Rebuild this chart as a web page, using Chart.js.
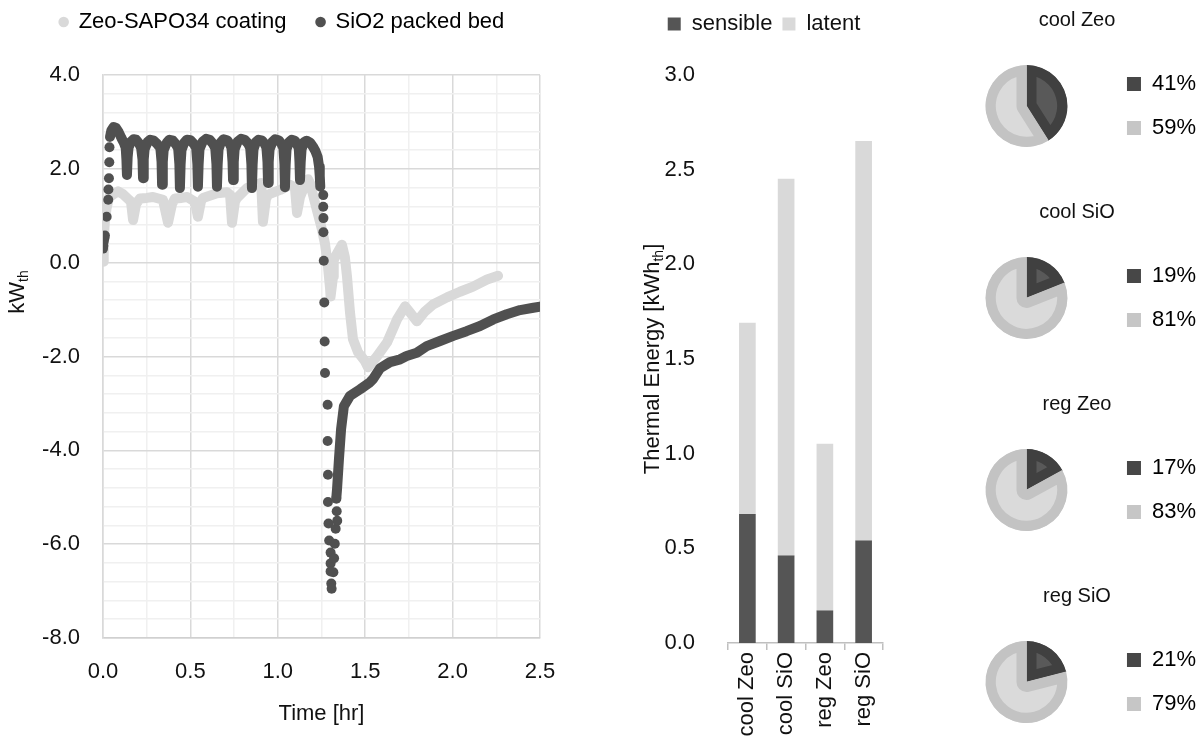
<!DOCTYPE html>
<html>
<head>
<meta charset="utf-8">
<title>Thermal power and energy</title>
<script src="https://cdn.jsdelivr.net/npm/chart.js@4.4.1/dist/chart.umd.min.js"></script>
<style>
  html, body { margin: 0; padding: 0; background: #fff; overflow: hidden; }
  body { width: 1200px; height: 736px; position: relative; }
  canvas { position: absolute; display: block; }
</style>
</head>
<body>
<canvas id="timeChart" width="590" height="736" style="left:0;top:0"></canvas>
<canvas id="energyChart" width="310" height="736" style="left:600px;top:0"></canvas>
<canvas id="pie0" width="272" height="162" style="left:934px;top:0"></canvas>
<canvas id="pie1" width="272" height="162" style="left:934px;top:192px"></canvas>
<canvas id="pie2" width="272" height="162" style="left:934px;top:384px"></canvas>
<canvas id="pie3" width="272" height="162" style="left:934px;top:576px"></canvas>

<script>
// ---- data ----
const seriesNames = ['Zeo-SAPO34 coating', 'SiO2 packed bed'];

// Zeo-SAPO34 coating, [time hr, kWth]
const zeoTrace = [
  [0.000, 0.02], [0.004, 0.45], [0.010, 0.85], [0.020, 1.15], [0.035, 1.40], [0.057, 1.45],
  [0.086, 1.52], [0.114, 1.46], [0.143, 1.36], [0.160, 1.30], [0.172, 0.91], [0.189, 1.25],
  [0.212, 1.37], [0.250, 1.38], [0.286, 1.40], [0.343, 1.34], [0.372, 0.85], [0.395, 1.25],
  [0.412, 1.37], [0.450, 1.38], [0.481, 1.40], [0.526, 1.30], [0.543, 0.98], [0.560, 1.30],
  [0.572, 1.38], [0.652, 1.48], [0.709, 1.50], [0.727, 1.45], [0.738, 0.85], [0.755, 1.30],
  [0.767, 1.38], [0.824, 1.59], [0.881, 1.66], [0.905, 1.70], [0.915, 0.87], [0.932, 1.35],
  [0.944, 1.45], [1.013, 1.55], [1.070, 1.66], [1.098, 1.60], [1.110, 1.06], [1.127, 1.40],
  [1.138, 1.50], [1.173, 1.78], [1.184, 1.70], [1.201, 1.45], [1.224, 1.12], [1.253, 0.70],
  [1.270, 0.40], [1.287, -0.08], [1.299, -0.55], [1.302, -0.72], [1.316, -0.30], [1.320, 0.06],
  [1.344, 0.23], [1.367, 0.38], [1.384, 0.11], [1.396, -0.30], [1.402, -0.57], [1.413, -1.06],
  [1.430, -1.63], [1.459, -1.91], [1.499, -2.10], [1.516, -2.23], [1.567, -2.00], [1.625, -1.70],
  [1.682, -1.21], [1.728, -0.93], [1.756, -1.06], [1.796, -1.25], [1.842, -1.04], [1.888, -0.89],
  [1.968, -0.74], [2.042, -0.62], [2.117, -0.51], [2.197, -0.36], [2.260, -0.28]
];

// SiO2 packed bed: cycling part, recovery part and the sparse single samples
const sioTrace = [
  [0.040, 2.68], [0.048, 2.82], [0.060, 2.89], [0.075, 2.87], [0.090, 2.78], [0.105, 2.66], [0.120, 2.55], [0.130, 2.45],
  [0.134, 2.20], [0.137, 1.87], [0.141, 2.25], [0.146, 2.45],
  [0.160, 2.58], [0.175, 2.63], [0.190, 2.62], [0.205, 2.55], [0.218, 2.45],
  [0.226, 2.20], [0.229, 1.80], [0.233, 2.20], [0.238, 2.42],
  [0.255, 2.57], [0.270, 2.62], [0.290, 2.60], [0.310, 2.53], [0.328, 2.45],
  [0.335, 2.15], [0.338, 1.66], [0.342, 2.15], [0.347, 2.40],
  [0.365, 2.56], [0.380, 2.62], [0.400, 2.60], [0.418, 2.52], [0.430, 2.44],
  [0.437, 2.10], [0.440, 1.59], [0.444, 2.10], [0.449, 2.40],
  [0.465, 2.56], [0.480, 2.62], [0.500, 2.61], [0.520, 2.53], [0.533, 2.45],
  [0.540, 2.10], [0.543, 1.62], [0.547, 2.10], [0.552, 2.42],
  [0.570, 2.58], [0.590, 2.64], [0.610, 2.62], [0.628, 2.54], [0.642, 2.45],
  [0.649, 2.10], [0.652, 1.62], [0.656, 2.10], [0.661, 2.42],
  [0.675, 2.57], [0.690, 2.63], [0.710, 2.61], [0.725, 2.53], [0.735, 2.45],
  [0.741, 2.15], [0.744, 1.76], [0.748, 2.15], [0.753, 2.42],
  [0.770, 2.58], [0.790, 2.64], [0.810, 2.62], [0.830, 2.54], [0.842, 2.45],
  [0.849, 2.10], [0.852, 1.59], [0.856, 2.10], [0.861, 2.42],
  [0.875, 2.57], [0.890, 2.62], [0.910, 2.60], [0.925, 2.53], [0.935, 2.45],
  [0.941, 2.15], [0.944, 1.70], [0.948, 2.15], [0.953, 2.42],
  [0.970, 2.58], [0.985, 2.63], [1.005, 2.61], [1.020, 2.54], [1.032, 2.45],
  [1.038, 2.10], [1.041, 1.61], [1.045, 2.10], [1.050, 2.42],
  [1.065, 2.57], [1.080, 2.62], [1.098, 2.60], [1.110, 2.52], [1.120, 2.44],
  [1.124, 2.15], [1.127, 1.76], [1.131, 2.15], [1.136, 2.42],
  [1.150, 2.57], [1.165, 2.60], [1.185, 2.56], [1.200, 2.48], [1.215, 2.38], [1.228, 2.25],
  [1.236, 2.05], [1.240, 1.85], [1.243, 1.62]
];
const sioRecovery = [
  [1.335, -5.00], [1.339, -4.82], [1.350, -4.18], [1.362, -3.55], [1.378, -3.06], [1.413, -2.84],
  [1.470, -2.70], [1.527, -2.55], [1.545, -2.48], [1.585, -2.25], [1.642, -2.12], [1.700, -2.06],
  [1.737, -1.99], [1.795, -1.92], [1.852, -1.78], [1.928, -1.67], [2.004, -1.56], [2.080, -1.46],
  [2.157, -1.35], [2.233, -1.21], [2.310, -1.10], [2.386, -1.01], [2.462, -0.96], [2.500, -0.94]
];
const sioDots = [
  [0.000, 0.30], [0.002, 0.36], [0.004, 0.45], [0.008, 0.52], [0.011, 0.58], [0.021, 0.98],
  [0.030, 1.34], [0.031, 1.56], [0.034, 1.80], [0.036, 2.14], [0.037, 2.46],
  [1.260, 1.44], [1.260, 1.19], [1.261, 0.95], [1.261, 0.65], [1.263, 0.04], [1.266, -0.85],
  [1.268, -1.68], [1.270, -2.35], [1.285, -3.03], [1.285, -3.80], [1.287, -4.52], [1.287, -5.10],
  [1.290, -5.56], [1.294, -5.92], [1.302, -6.18], [1.302, -6.41], [1.302, -6.58], [1.306, -6.84],
  [1.308, -6.95], [1.318, -6.60], [1.322, -6.30], [1.326, -5.99], [1.331, -5.67], [1.340, -5.50],
  [1.337, -5.30], [1.335, -5.03]
];

// energy split per run, kWh_th
const runLabels = ['cool Zeo', 'cool SiO', 'reg Zeo', 'reg SiO'];
const sensibleEnergy = [0.68, 0.46, 0.17, 0.54];
const latentEnergy = [1.01, 1.99, 0.88, 2.11];

// shares shown in the pies, %
const sensibleShare = [41, 19, 17, 21];
const latentShare = [59, 81, 83, 79];

// ---- styling ----
const FONT = "'Liberation Sans', Arial, sans-serif";
const FS = 22;
const ZEO = '#d9d9d9';
const SIO = '#505050';
const MAJOR = '#d9d9d9';
const MINOR = '#f0f0f0';

Chart.defaults.font.family = FONT;
Chart.defaults.font.size = FS;
Chart.defaults.color = '#111';
Chart.defaults.animation = false;

const isMult = (v, m) => Math.abs(v / m - Math.round(v / m)) < 1e-6;
const fmt = v => (Math.abs(v) < 1e-9 ? 0 : v).toFixed(1);
const xy = arr => arr.map(([x, y]) => ({ x, y }));

// blank top title used only as a gap between legend and plot
const gapTitle = gap => ({ display: true, text: '', weight: 500, padding: { top: gap, bottom: 0 }, font: { size: 1, lineHeight: 1 } });

// rotated axis title with a subscript part
const axisTitlePlugin = {
  id: 'axisTitle',
  afterDraw(chart, args, opts) {
    const { ctx } = chart;
    const big = `${FS}px ${FONT}`;
    const small = `14px ${FONT}`;
    ctx.save();
    ctx.translate(opts.x, opts.y);
    ctx.rotate(-Math.PI / 2);
    ctx.fillStyle = '#111';
    ctx.textBaseline = 'middle';
    let total = 0;
    opts.parts.forEach(p => { ctx.font = p[1] ? small : big; total += ctx.measureText(p[0]).width; });
    let x = -total / 2;
    opts.parts.forEach(p => {
      ctx.font = p[1] ? small : big;
      ctx.fillText(p[0], x, p[1] ? 6 : 0);
      x += ctx.measureText(p[0]).width;
    });
    ctx.restore();
  }
};

const traceStyle = color => ({
  showLine: true, borderColor: color, backgroundColor: color, borderWidth: 10,
  borderJoinStyle: 'round', borderCapStyle: 'round', pointRadius: 0, pointHoverRadius: 0, tension: 0
});

// 1. Power over time
new Chart(document.getElementById('timeChart'), {
  type: 'scatter',
  data: {
    datasets: [
      { label: seriesNames[0], data: xy(zeoTrace), order: 3, ...traceStyle(ZEO) },
      { label: seriesNames[1], data: xy(sioTrace), order: 1, ...traceStyle(SIO) },
      { label: seriesNames[1], data: xy(sioRecovery), order: 1, ...traceStyle(SIO) },
      { label: seriesNames[1], data: xy(sioDots), order: 1, pointRadius: 5, pointHoverRadius: 5,
        backgroundColor: SIO, borderWidth: 0 }
    ]
  },
  options: {
    responsive: false,
    layout: { padding: { left: 24, right: 50, top: -19 } },
    plugins: {
      legend: {
        labels: {
          usePointStyle: true, boxWidth: 8, boxHeight: 7.5, padding: 30,
          generateLabels: () => seriesNames.map((name, i) => ({
            text: name, fillStyle: [ZEO, SIO][i], strokeStyle: [ZEO, SIO][i],
            lineWidth: 0, pointStyle: 'circle', datasetIndex: i, hidden: false
          }))
        }
      },
      title: gapTitle(31),
      tooltip: { enabled: false },
      axisTitle: { x: 18, y: 292, parts: [['kW'], ['th', 1]] }
    },
    scales: {
      x: {
        type: 'linear', min: 0, max: 2.5,
        ticks: { stepSize: 0.25, padding: 21, maxRotation: 0, autoSkip: false,
          callback: v => isMult(v, 0.5) ? fmt(v) : '' },
        grid: { color: c => isMult(c.tick.value, 0.5) ? MAJOR : MINOR, lineWidth: 1.5, drawTicks: false },
        border: { color: '#d0d0d0', width: 1.5 },
        title: { display: true, text: 'Time [hr]', padding: { top: 0, bottom: 9 } },
        afterFit: s => { s.height = 98; }
      },
      y: {
        min: -8, max: 4,
        ticks: { stepSize: 0.4, padding: 23, autoSkip: false,
          callback: v => isMult(v, 2) ? fmt(v) : '' },
        grid: { color: c => isMult(c.tick.value, 2) ? MAJOR : MINOR, lineWidth: 1.5, drawTicks: false },
        border: { color: MAJOR, width: 1.5 },
        afterFit: s => { s.width = 79; }
      }
    }
  },
  plugins: [axisTitlePlugin]
});

// 2. Energy split bars
new Chart(document.getElementById('energyChart'), {
  type: 'bar',
  data: {
    labels: runLabels,
    datasets: [
      { label: 'sensible', data: sensibleEnergy, backgroundColor: '#555555', barThickness: 16 },
      { label: 'latent', data: latentEnergy, backgroundColor: ZEO, barThickness: 16 }
    ]
  },
  options: {
    responsive: false,
    layout: { padding: { left: 45, right: 27, top: 3 } },
    plugins: {
      legend: { labels: { boxWidth: 13, boxHeight: 13, padding: 10 } },
      title: gapTitle(29),
      tooltip: { enabled: false },
      axisTitle: { x: 53, y: 359, parts: [['Thermal Energy [kWh'], ['th', 1], [']']] }
    },
    scales: {
      x: {
        stacked: true,
        ticks: { minRotation: 90, maxRotation: 90, padding: 2, autoSkip: false },
        grid: { drawOnChartArea: false, color: '#bfbfbf', lineWidth: 1.5, tickLength: 7 },
        border: { color: '#bfbfbf', width: 1.5 },
        afterFit: s => { s.height = 93; }
      },
      y: {
        stacked: true, min: 0, max: 3,
        ticks: { stepSize: 0.5, padding: 25, callback: v => fmt(v) },
        grid: { display: false },
        border: { display: false },
        afterFit: s => { s.width = 83; }
      }
    }
  },
  plugins: [axisTitlePlugin]
});

// 3. Share pies
const legendColors = ['#474747', '#c6c6c6'];
runLabels.forEach((name, i) => {
  new Chart(document.getElementById('pie' + i), {
    type: 'pie',
    data: {
      labels: [sensibleShare[i] + '%', latentShare[i] + '%'],
      datasets: [{
        data: [sensibleShare[i], latentShare[i]],
        backgroundColor: ['#595959', '#dadada'],
        borderColor: ['#404040', '#c3c3c3'],
        borderWidth: 10,
        borderAlign: 'inner'
      }]
    },
    options: {
      responsive: false,
      radius: 41,
      layout: { padding: { left: 14 } },
      plugins: {
        title: {
          display: true, text: name, color: '#111',
          font: { size: 20, weight: 'normal' },
          padding: { top: 8, bottom: 18 }
        },
        legend: {
          position: 'right', fullSize: false,
          labels: {
            boxWidth: 14, boxHeight: 14, padding: 22,
            generateLabels: chart => chart.data.labels.map((t, k) => ({
              text: t, fillStyle: legendColors[k], strokeStyle: legendColors[k],
              lineWidth: 0, hidden: false, index: k
            }))
          }
        },
        tooltip: { enabled: false }
      }
    }
  });
});
</script>
</body>
</html>
